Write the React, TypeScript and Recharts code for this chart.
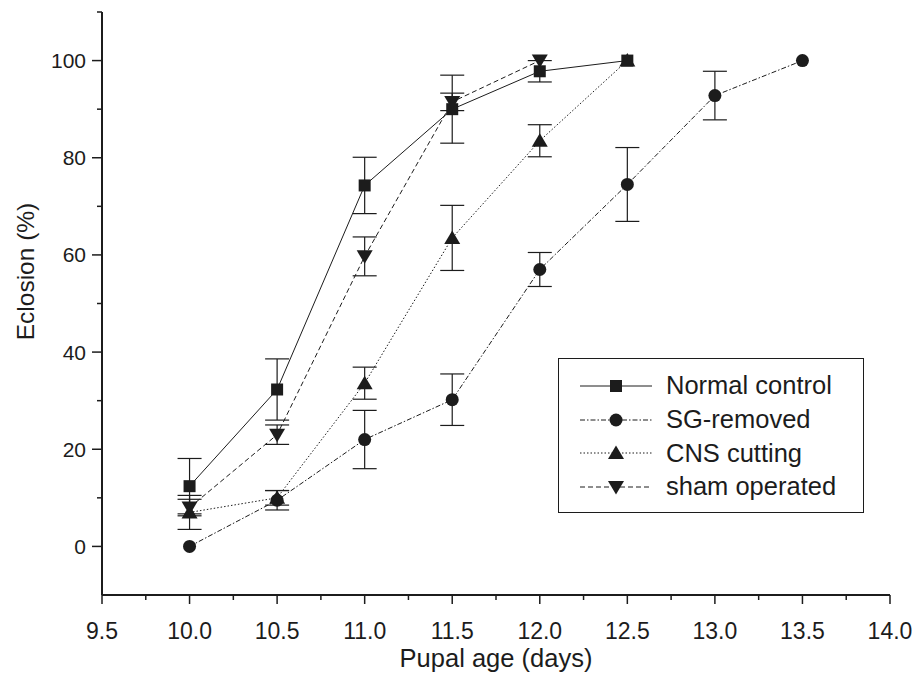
import React from "react";
import { LineChart, Line, XAxis, YAxis, ErrorBar, Legend } from "recharts";

const FONT = '"Liberation Sans", Arial, Helvetica, sans-serif';
const INK = "#1c1c1c";

// pupal age (days) / eclosion (%) / error (+-)
const normalX = [10.0, 10.5, 11.0, 11.5, 12.0, 12.5];
const normalY = [12.4, 32.3, 74.3, 90.0, 97.8, 100];
const normalErr = [5.7, 6.3, 5.8, 7.0, 2.2, 0];

const sgX = [10.0, 10.5, 11.0, 11.5, 12.0, 12.5, 13.0, 13.5];
const sgY = [0, 9.5, 22.0, 30.2, 57.0, 74.5, 92.8, 100];
const sgErr = [0, 2.0, 6.0, 5.3, 3.5, 7.6, 5.0, 0];

const cnsX = [10.0, 10.5, 11.0, 11.5, 12.0, 12.5];
const cnsY = [7.0, 10.0, 33.6, 63.5, 83.5, 100];
const cnsErr = [3.5, 1.5, 3.3, 6.7, 3.3, 0];

const shamX = [10.0, 10.5, 11.0, 11.5, 12.0];
const shamY = [8.0, 23.0, 59.7, 91.5, 100];
const shamErr = [1.7, 2.0, 4.0, 1.8, 0];

const xTicks = [9.5, 9.75, 10, 10.25, 10.5, 10.75, 11, 11.25, 11.5, 11.75, 12, 12.25, 12.5, 12.75, 13, 13.25, 13.5, 13.75, 14];
const yTicks = [0, 10, 20, 30, 40, 50, 60, 70, 80, 90, 100, 110];

const toRows = (xs: number[], ys: number[], es: number[]) =>
  xs.map((x, i) => ({ x, y: ys[i], err: es[i] }));

type Shape = "square" | "circle" | "up" | "down";

function marker(shape: Shape, cx: number, cy: number, key?: string) {
  if (shape === "square")
    return <rect key={key} x={cx - 6} y={cy - 6} width={12} height={12} fill={INK} />;
  if (shape === "circle") return <circle key={key} cx={cx} cy={cy} r={6.5} fill={INK} />;
  if (shape === "up")
    return <polygon key={key} points={`${cx},${cy - 7.5} ${cx - 8},${cy + 6} ${cx + 8},${cy + 6}`} fill={INK} />;
  return <polygon key={key} points={`${cx},${cy + 7.5} ${cx - 8},${cy - 6} ${cx + 8},${cy - 6}`} fill={INK} />;
}

const series = [
  { name: "Normal control", data: toRows(normalX, normalY, normalErr), shape: "square" as Shape, dash: undefined },
  { name: "SG-removed", data: toRows(sgX, sgY, sgErr), shape: "circle" as Shape, dash: "5 2 1.5 2" },
  { name: "CNS cutting", data: toRows(cnsX, cnsY, cnsErr), shape: "up" as Shape, dash: "1.5 2" },
  { name: "sham operated", data: toRows(shamX, shamY, shamErr), shape: "down" as Shape, dash: "5 3" },
];

const isMajorX = (v: number) => Math.abs(v * 2 - Math.round(v * 2)) < 1e-6;

const XTick = (p: any) => {
  const v = p.payload.value;
  const major = isMajorX(v);
  return (
    <g>
      <line x1={p.x} x2={p.x} y1={p.y} y2={p.y + (major ? 9 : 5)} stroke={INK} strokeWidth={1.5} />
      {major && (
        <text x={p.x} y={p.y + 44} textAnchor="middle" fontFamily={FONT} fontSize={23} fill={INK}>
          {v.toFixed(1)}
        </text>
      )}
    </g>
  );
};

const YTick = (p: any) => {
  const v = p.payload.value;
  const major = v % 20 === 0 && v <= 100;
  return (
    <g>
      <line x1={p.x - (major ? 10 : 5)} x2={p.x} y1={p.y} y2={p.y} stroke={INK} strokeWidth={1.5} />
      {major && (
        <text x={p.x - 16} y={p.y + 7.5} textAnchor="end" fontFamily={FONT} fontSize={21} fill={INK}>
          {v}
        </text>
      )}
    </g>
  );
};

const YLabel = (props: any) => {
  const vb = props.viewBox || { x: 0, y: 12, width: 102, height: 583 };
  const cx = vb.x + 25;
  const cy = vb.y + vb.height / 2 - 32;
  return (
    <text
      x={cx}
      y={cy}
      transform={`rotate(-90, ${cx}, ${cy})`}
      textAnchor="middle"
      dominantBaseline="central"
      fontFamily={FONT}
      fontSize={24.5}
      fill={INK}
    >
      Eclosion (%)
    </text>
  );
};

const LegendBox = () => (
  <div
    style={{
      border: `1.5px solid ${INK}`,
      background: "#fff",
      boxSizing: "border-box",
      width: 306,
      height: 155,
      padding: "10px 0 0 21px",
      fontFamily: FONT,
      fontSize: 25.5,
      color: INK,
    }}
  >
    {series.map((s) => (
      <div key={s.name} style={{ display: "flex", alignItems: "center", height: 33.7 }}>
        <svg width={72} height={20} style={{ flex: "none" }}>
          <line x1={0} x2={72} y1={10} y2={10} stroke={INK} strokeWidth={1} strokeDasharray={s.dash} />
          {marker(s.shape, 36, 10)}
        </svg>
        <span style={{ marginLeft: 14, whiteSpace: "nowrap" }}>{s.name}</span>
      </div>
    ))}
  </div>
);

export default function App() {
  return (
    <div style={{ position: "absolute", left: 0, top: 0, width: 913, height: 673, background: "#fff" }}>
      <LineChart width={913} height={673} margin={{ top: 12, right: 23, left: 0, bottom: 0 }}>
        <XAxis
          type="number"
          dataKey="x"
          domain={[9.5, 14]}
          ticks={xTicks}
          interval={0}
          height={78}
          tickLine={false}
          tickSize={0}
          tickMargin={0}
          tick={<XTick />}
          axisLine={{ stroke: INK, strokeWidth: 2 }}
          allowDataOverflow
          label={{
            value: "Pupal age (days)",
            position: "insideBottom",
            offset: 6,
            style: { fontFamily: FONT, fontSize: 25.5, fill: INK },
          }}
        />
        <YAxis
          type="number"
          domain={[-10, 110]}
          ticks={yTicks}
          interval={0}
          width={102}
          tickLine={false}
          tickSize={0}
          tickMargin={0}
          tick={<YTick />}
          axisLine={{ stroke: INK, strokeWidth: 2 }}
          allowDataOverflow
          label={YLabel}
        />
        <Legend
          layout="horizontal"
          verticalAlign="middle"
          align="center"
          content={<LegendBox />}
          wrapperStyle={{ left: 558, top: 358, width: 306, height: 155 }}
        />
        {series.map((s) => (
          <Line
            key={s.name}
            data={s.data}
            dataKey="y"
            name={s.name}
            type="linear"
            stroke={INK}
            strokeWidth={1}
            strokeDasharray={s.dash}
            isAnimationActive={false}
            activeDot={false}
            dot={(p: any) => marker(s.shape, p.cx, p.cy, `${s.name}-${p.index}`)}
          >
            <ErrorBar dataKey="err" width={12} stroke={INK} strokeWidth={1.2} isAnimationActive={false} />
          </Line>
        ))}
      </LineChart>
    </div>
  );
}
